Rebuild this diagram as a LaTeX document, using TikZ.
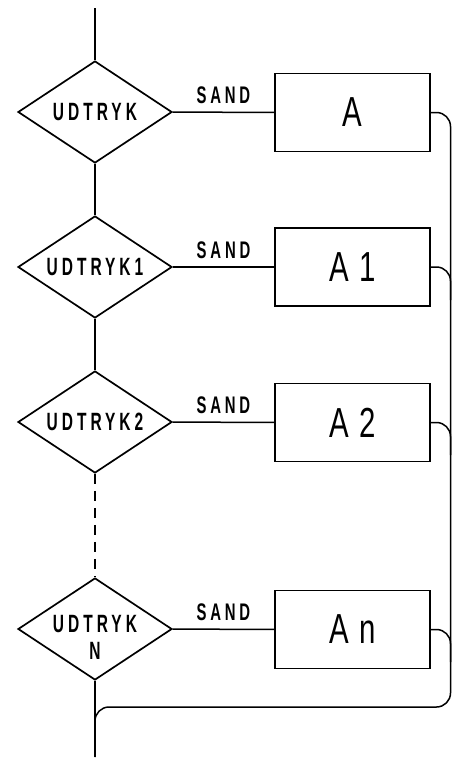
\documentclass[tikz,border=0pt]{standalone}
\usepackage{fontspec}
\setmainfont{Liberation Sans}
\newfontfamily\labfont{Liberation Sans Bold}[FakeStretch=0.62,LetterSpace=16]
\newfontfamily\boxfont{Liberation Sans}[FakeStretch=0.7,LetterSpace=25]
\usetikzlibrary{shapes.geometric}
\begin{document}
\begin{tikzpicture}[x=1pt,y=-1pt,
  dec/.style={draw,diamond,line width=1.7pt,minimum width=154pt,minimum height=102pt,inner sep=0pt},
  dectext/.style={font=\labfont\fontsize{25}{27}\selectfont,align=center,inner sep=0pt},
  act/.style={draw,rectangle,line width=1.7pt,minimum width=155pt,minimum height=78pt,inner sep=0pt,
    font=\boxfont\fontsize{42}{44}\selectfont},
  conn/.style={line width=1.5pt},
  yes/.style={font=\labfont\fontsize{24}{26}\selectfont,above=4pt,midway}
]
\useasboundingbox (0,0) rectangle (451,758);
\coordinate (top) at (95,8);
\coordinate (bot) at (95,757);
\node[dec,label={[dectext]center:UDTRYK}] (d1) at (95,112) {};
\node[dec,label={[dectext]center:UDTRYK1}] (d2) at (95,267) {};
\node[dec,label={[dectext]center:UDTRYK2}] (d3) at (95,422) {};
\node[dec,label={[dectext,yshift=-8pt]center:UDTRYK\\N}] (d4) at (95,629) {};
\node[act] (a)  at (352.5,112.5) {A};
\node[act] (a1) at (352.5,267) {A1};
\node[act] (a2) at (352.5,422.5) {A2};
\node[act] (an) at (352.5,629.5) {An};
\draw[conn] (top) -- (d1.north);
\draw[conn] (d1.south) -- (d2.north);
\draw[conn] (d2.south) -- (d3.north);
\draw[conn,dashed,dash pattern=on 10pt off 7pt] (d3.south) -- (d4.north);
\draw[conn] (d4.south) -- (bot);
\draw[conn] (d1) -- node[yes]{SAND} (a);
\draw[conn] (d2) -- node[yes]{SAND} (a1);
\draw[conn] (d3) -- node[yes]{SAND} (a2);
\draw[conn] (d4) -- node[yes]{SAND} (an);
\draw[conn,rounded corners=14pt] (a.east) -| (450.5,707) -| (bot);
\draw[conn,rounded corners=14pt] (a1.east) -| (450.5,300);
\draw[conn,rounded corners=14pt] (a2.east) -| (450.5,455);
\draw[conn,rounded corners=14pt] (an.east) -| (450.5,662);
\end{tikzpicture}
\end{document}
